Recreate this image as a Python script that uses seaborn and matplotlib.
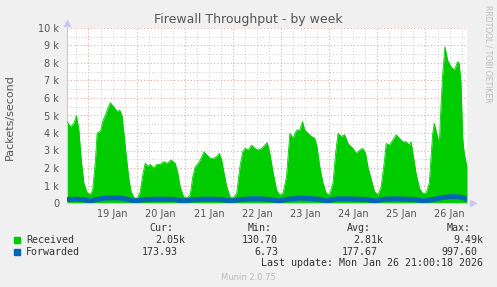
import matplotlib
matplotlib.use("Agg")
import matplotlib.pyplot as plt
from matplotlib.patches import Rectangle
from matplotlib.ticker import MultipleLocator, FuncFormatter
import seaborn as sns
import pandas as pd

# ---- data (hours since 19 Jan 00:00, packets/second) ----
recv_hours = [-10.7, -8.9, -7.3, -6.0, -4.8, -3.6, -2.3, -0.6, 1.0, 2.1, 3.5, 4.3, 6.0, 7.3, 8.4,
              9.6, 10.9, 12.6, 14.3, 15.6, 16.7, 17.5, 18.7, 20.0, 21.2, 22.9, 24.5, 25.8, 27.2,
              28.3, 29.5, 30.8, 32.4, 34.1, 35.8, 37.4, 39.1, 41.2, 43.2, 44.4, 45.7, 47.4, 49.0,
              50.7, 52.0, 53.2, 54.8, 56.5, 57.6, 59.0, 60.6, 62.3, 63.9, 65.2, 66.4, 67.6, 68.9,
              70.6, 72.2, 73.9, 75.5, 76.9, 78.0, 79.7, 81.3, 83.0, 84.6, 86.3, 87.9, 89.1, 90.4,
              92.1, 93.8, 95.4, 97.0, 98.7, 100.4, 102.0, 103.7, 105.3, 106.7, 107.8, 109.5,
              111.2, 112.8, 113.9, 115.3, 116.9, 118.6, 120.2, 121.9, 123.2, 124.4, 126.1, 127.7,
              129.4, 131.8, 133.5, 135.2, 136.8, 138.1, 139.3, 141.0, 142.6, 144.3, 145.9, 147.6,
              148.4, 150.1, 151.7, 153.4, 155.0, 156.7, 158.4, 160.0, 160.8, 162.0, 163.3, 165.0,
              166.6, 168.3, 169.9, 171.6, 172.4, 173.6, 174.9, 175.8, 176.5, 177.7, 179.0, 180.7,
              182.4, 184.0, 184.8, 185.7, 186.5, 187.3, 188.7]
received = [4650, 4360, 4550, 4990, 4170, 2460, 1140, 570, 500, 740, 2460, 4000, 4100, 4740, 5000,
            5410, 5730, 5500, 5220, 5300, 5000, 4170, 2840, 1500, 650, 280, 280, 650, 1700,
            2270, 2100, 2200, 2000, 2200, 2200, 2360, 2270, 2460, 2270, 1790, 930, 360, 280,
            450, 1500, 2070, 2270, 2650, 2930, 2750, 2550, 2550, 2650, 2840, 2460, 1700, 930,
            360, 280, 550, 2070, 2930, 3120, 3030, 3310, 3120, 3030, 3120, 3310, 3450, 2840,
            1700, 740, 450, 550, 1500, 3980, 3700, 4170, 4170, 4650, 4170, 3980,
            3800, 3700, 3220, 2070, 1140, 550, 450, 1140, 2840, 3980, 3800, 3900,
            3400, 3120, 2840, 3030, 3120, 2840, 2070, 1320, 650, 450, 930, 2460,
            3400, 3310, 3600, 3900, 3700, 3500, 3500, 3310, 3500, 2650, 1700, 840,
            550, 550, 1140, 3980, 4550, 3980, 3400, 5690, 7220, 8930, 8170, 7790,
            7600, 8070, 7980, 6840, 3790, 2840, 2050]

fwd_hours = [-10.7, -6, -2, 1, 4, 8, 12, 16, 20, 23, 27, 32, 38, 43, 47, 52, 57, 62, 66, 71, 76,
             81, 86, 90, 95, 100, 105, 110, 114, 119, 124, 129, 134, 138, 143, 148, 153, 158,
             162, 167, 172, 176, 180, 184, 187, 188.7]
forwarded = [200, 220, 180, 120, 200, 280, 300, 280, 200, 120, 180, 220, 220, 200, 120, 180, 220,
             220, 200, 120, 200, 240, 240, 200, 120, 220, 280, 260, 220, 120, 240, 240, 220, 200,
             120, 220, 240, 220, 200, 120, 200, 300, 360, 360, 300, 180]

day_labels = ["19 Jan", "20 Jan", "21 Jan", "22 Jan", "23 Jan", "24 Jan", "25 Jan", "26 Jan"]
y_labels = ["0", "1 k", "2 k", "3 k", "4 k", "5 k", "6 k", "7 k", "8 k", "9 k", "10 k"]

legend_rows = [
    ("Received", "#00CC00", ["2.05k", "130.70", "2.81k", "9.49k"]),
    ("Forwarded", "#0066B3", ["173.93", "6.73", "177.67", "997.60"]),
]
headers = ["Cur:", "Min:", "Avg:", "Max:"]

# ---- style ----
sns.set_style("white")
plt.rcParams["font.family"] = ["DejaVu Sans"]

W, H = 497, 287
fig = plt.figure(figsize=(W / 100, H / 100), dpi=100, facecolor="#F0F0F0")
ax = fig.add_axes([67 / W, 84 / H, 400 / W, 175 / H])
ax.set_facecolor("white")

df_r = pd.DataFrame({"h": recv_hours, "v": received})
df_f = pd.DataFrame({"h": fwd_hours, "v": forwarded})

ax.fill_between(df_r["h"], df_r["v"], color="#00CC00", lw=0, zorder=2)
sns.lineplot(data=df_r, x="h", y="v", ax=ax, color="#00CC00", lw=0.6, zorder=3)
sns.lineplot(data=df_f, x="h", y="v", ax=ax, color="#0066B3", lw=3.6, zorder=4,
             solid_capstyle="butt")

ax.set_xlim(-10.7, 188.7)
ax.set_ylim(0, 10000)
ax.set_xlabel("")
ax.set_ylabel("")

# grid
ax.xaxis.set_major_locator(MultipleLocator(24))
ax.xaxis.set_minor_locator(MultipleLocator(6))
ax.xaxis.set_major_formatter(FuncFormatter(lambda v, p: ""))


def xminor(v, p):
    if abs((v % 24) - 12) < 0.01:
        i = int(v // 24)
        if 0 <= i < len(day_labels):
            return day_labels[i]
    return ""


ax.xaxis.set_minor_formatter(FuncFormatter(xminor))
ax.yaxis.set_major_locator(MultipleLocator(1000))
ax.yaxis.set_minor_locator(MultipleLocator(500))
ax.yaxis.set_major_formatter(FuncFormatter(lambda v, p: y_labels[int(round(v / 1000))]
                                           if 0 <= round(v / 1000) < len(y_labels) else ""))

ax.set_axisbelow(True)
ax.grid(which="major", color="#E8A8A8", linestyle=(0, (1, 2)), lw=0.8)
ax.grid(which="minor", color="#CCCCCC", linestyle=(0, (1, 2)), lw=0.7)

ax.tick_params(axis="both", which="both", length=0, labelsize=7, labelcolor="#555555")
ax.tick_params(axis="y", pad=5.5)
ax.tick_params(axis="x", which="minor", pad=4)

for s in ["top", "right"]:
    ax.spines[s].set_visible(False)
for s in ["left", "bottom"]:
    ax.spines[s].set_color("#C8C8F0")
    ax.spines[s].set_linewidth(0.8)

# axis arrows
ax.plot([0], [1.03], marker="^", color="#C8C8F0", ms=4, transform=ax.transAxes,
        clip_on=False, zorder=6)
ax.plot([1.015], [0], marker=">", color="#C8C8F0", ms=4, transform=ax.transAxes,
        clip_on=False, zorder=6)


def fx(x):
    return x / W


def fy(y):
    return 1 - y / H


fig.text(fx(248.5), fy(19), "Firewall Throughput - by week", ha="center", va="center",
         fontsize=9.0, color="#555555")
fig.text(fx(10), fy(117), "Packets/second", rotation=90, ha="center", va="center",
         fontsize=8, color="#555555")
fig.text(fx(488), fy(5), "RRDTOOL / TOBI OETIKER", rotation=270, ha="center", va="top",
         fontsize=5.5, color="#BBBBBB")

mono = "DejaVu Sans Mono"
tc = "#333333"
for hx, t in zip([149, 248, 347, 447], headers):
    fig.text(fx(hx), fy(228), t, ha="left", va="center", family=mono, fontsize=7.2, color=tc)

row_y = [240, 252]
val_x = [[185, 278, 383, 483], [178, 278, 378, 477]]
for (name, col, vals), ry, vx in zip(legend_rows, row_y, val_x):
    fig.patches.append(Rectangle((fx(14), fy(ry + 3)), 5.5 / W, 6 / H, color=col,
                                 transform=fig.transFigure, figure=fig))
    fig.text(fx(26), fy(ry), name, ha="left", va="center", family=mono, fontsize=7.2, color=tc)
    for x, v in zip(vx, vals):
        fig.text(fx(x), fy(ry), v, ha="right", va="center", family=mono, fontsize=7.2,
                 color=tc)

fig.text(fx(483), fy(263), "Last update: Mon Jan 26 21:00:18 2026", ha="right", va="center",
         family=mono, fontsize=7.2, color=tc)
fig.text(fx(248), fy(277), "Munin 2.0.75", ha="center", va="center", fontsize=6,
         color="#BBBBBB")

fig.savefig("out.png", dpi=100, facecolor=fig.get_facecolor())
